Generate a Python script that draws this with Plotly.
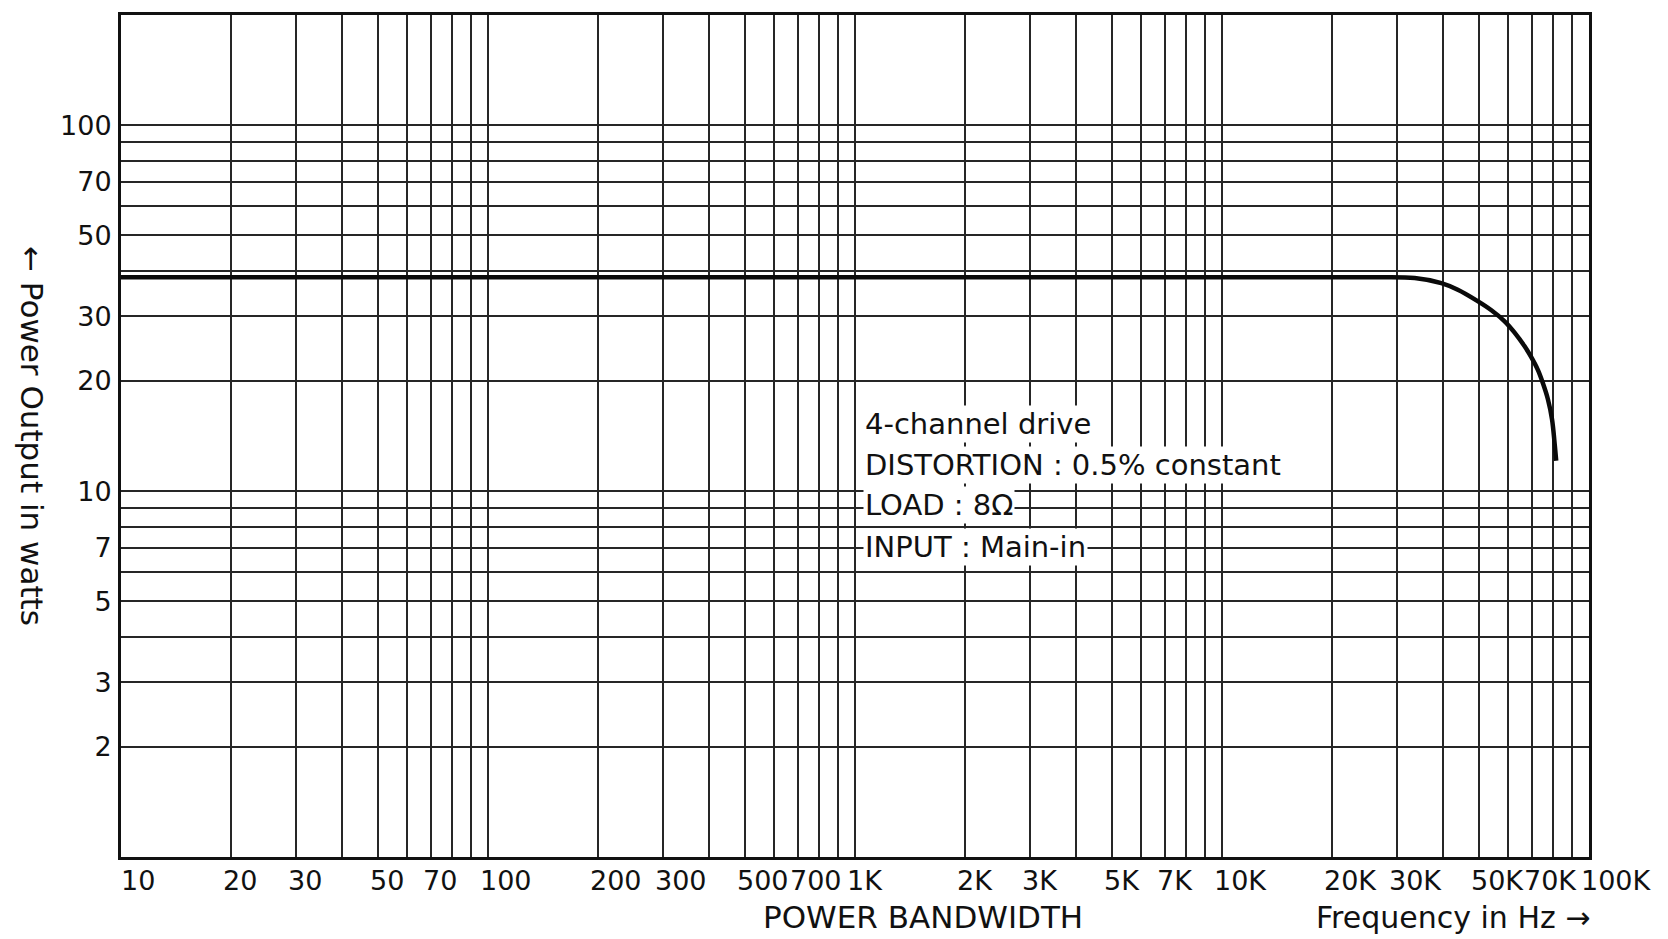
import numpy as np
import plotly.graph_objects as go

# ---- data ----
freq_hz = [10, 100, 1000, 10000, 20000, 27000, 33500, 39600, 43900, 49600,
           54200, 58900, 62700, 66700, 69300, 72600, 74900, 77300, 79300,
           80600, 81400]
power_w = [38.4, 38.4, 38.4, 38.4, 38.4, 38.4, 38.2, 37.0, 35.5, 33.1,
           31.2, 29.1, 27.1, 24.9, 23.4, 21.4, 19.7, 17.8, 15.7,
           13.5, 12.1]

x_label_vals = [10, 20, 30, 50, 70, 100, 200, 300, 500, 700, 1000, 2000, 3000,
                5000, 7000, 10000, 20000, 30000, 50000, 70000, 100000]
x_label_text = ["10", "20", "30", "50", "70", "100", "200", "300", "500", "700",
                "1K", "2K", "3K", "5K", "7K", "10K", "20K", "30K", "50K", "70K", "100K"]

y_label_vals = [2, 3, 5, 7, 10, 20, 30, 50, 70, 100]
y_label_text = ["2", "3", "5", "7", "10", "20", "30", "50", "70", "100"]

x_grid = [m * 10 ** d for d in range(1, 5) for m in range(1, 10)] + [100000]
y_grid = [m * 10 ** d for d in range(0, 2) for m in range(1, 10)] + [100]

notes = ["4-channel drive", "DISTORTION : 0.5% constant", "LOAD : 8Ω", "INPUT : Main-in"]

FONT = "DejaVu Sans"
INK = "#111111"

fig = go.Figure()
fig.add_trace(go.Scatter(
    x=freq_hz, y=power_w, mode="lines",
    line=dict(color="#0a0a0a", width=4.5, shape="spline", smoothing=1.0),
    showlegend=False, hoverinfo="skip"))

y_text_map = dict(zip(y_label_vals, y_label_text))

fig.update_xaxes(
    type="log", range=[1, 5],
    tickvals=x_grid, showticklabels=False, ticks="",
    showgrid=True, gridcolor="#262626", gridwidth=2,
    showline=True, linecolor="#111", linewidth=3, mirror=True,
    zeroline=False)
fig.update_yaxes(
    type="log", range=[0, np.log10(200)],
    tickvals=y_grid, ticktext=[y_text_map.get(v, "") for v in y_grid],
    ticks="", ticklabelstandoff=1,
    tickfont=dict(family=FONT, size=27, color=INK),
    showgrid=True, gridcolor="#262626", gridwidth=2,
    showline=True, linecolor="#111", linewidth=3, mirror=True,
    zeroline=False)

annotations = []
for v, t in zip(x_label_vals, x_label_text):
    annotations.append(dict(
        x=np.log10(v), y=0, xref="x", yref="paper",
        text=t, showarrow=False, xanchor="left", yanchor="middle",
        xshift=-10 if v > 10 else -2, yshift=-23,
        font=dict(family=FONT, size=27, color=INK)))

annotations.append(dict(
    x=0.546, y=0, xref="paper", yref="paper", text="POWER BANDWIDTH",
    showarrow=False, xanchor="center", yanchor="middle", yshift=-60,
    font=dict(family=FONT, size=31, color=INK)))
annotations.append(dict(
    x=1.002, y=0, xref="paper", yref="paper", text="Frequency in Hz →",
    showarrow=False, xanchor="right", yanchor="middle", yshift=-60,
    font=dict(family=FONT, size=30, color=INK)))
annotations.append(dict(
    x=0, y=0.5, xref="paper", yref="paper", text="← Power Output in watts",
    showarrow=False, xanchor="center", yanchor="middle", xshift=-89,
    textangle=90,
    font=dict(family=FONT, size=31, color=INK)))

note_y = [423, 464, 504, 546]
for t, py in zip(notes, note_y):
    annotations.append(dict(
        x=(863 - 121) / 1468, y=(857 - py) / 844, xref="paper", yref="paper",
        text=t, showarrow=False, xanchor="left", yanchor="middle",
        bgcolor="white", borderpad=1,
        font=dict(family=FONT, size=29, color=INK)))

fig.update_layout(
    width=1668, height=939,
    margin=dict(l=121, r=79, t=13, b=82),
    paper_bgcolor="white", plot_bgcolor="white",
    annotations=annotations)

fig.write_html("out.html")
